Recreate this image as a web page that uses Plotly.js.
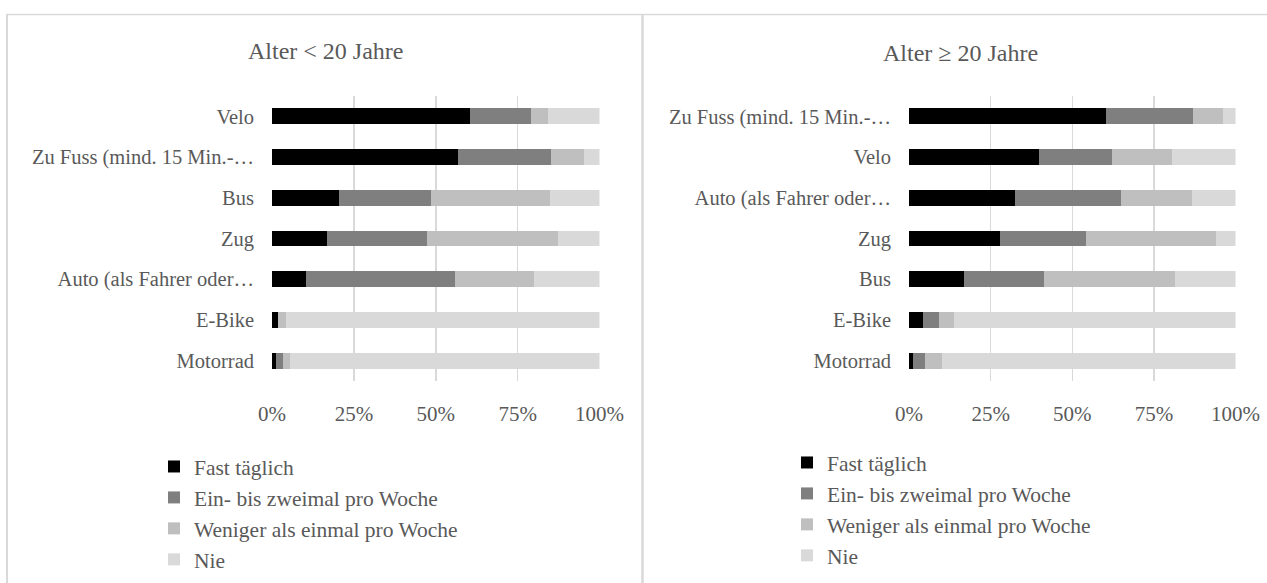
<!DOCTYPE html>
<html>
<head>
<meta charset="utf-8">
<script src="https://cdn.plot.ly/plotly-3.0.1.min.js"></script>
<style>
  html, body { margin: 0; padding: 0; background: #ffffff; }
  #chart { width: 1267px; height: 583px; }
</style>
</head>
<body>
<div id="chart"></div>
<script>
// ---- Data ----
var seriesNames = ["Fast täglich", "Ein- bis zweimal pro Woche", "Weniger als einmal pro Woche", "Nie"];
var seriesColors = ["#000000", "#7f7f7f", "#bfbfbf", "#d9d9d9"];

var titleLeft = "Alter < 20 Jahre";
var titleRight = "Alter ≥ 20 Jahre";

var catsUnder20 = ["Velo", "Zu Fuss (mind. 15 Min.-…", "Bus", "Zug", "Auto (als Fahrer oder…", "E-Bike", "Motorrad"];
var fastUnder20 = [60.5, 56.7, 20.6, 16.9, 10.5, 1.8, 1.3];
var einUnder20 = [18.6, 28.6, 28.0, 30.4, 45.5, 0.0, 2.1];
var wenigerUnder20 = [5.1, 9.9, 36.4, 40.0, 24.1, 2.5, 2.2];
var nieUnder20 = [15.8, 4.8, 15.0, 12.7, 19.9, 95.7, 94.4];

var catsOver20 = ["Zu Fuss (mind. 15 Min.-…", "Velo", "Auto (als Fahrer oder…", "Zug", "Bus", "E-Bike", "Motorrad"];
var fastOver20 = [60.4, 39.9, 32.5, 27.9, 16.9, 4.3, 1.2];
var einOver20 = [26.6, 22.4, 32.5, 26.4, 24.5, 4.9, 3.6];
var wenigerOver20 = [9.1, 18.1, 21.8, 39.6, 40.0, 4.6, 5.4];
var nieOver20 = [3.9, 19.6, 13.2, 6.1, 18.6, 86.2, 89.8];

var tickVals = [0, 25, 50, 75, 100];
var tickText = ["0%", "25%", "50%", "75%", "100%"];

// ---- Layout helpers ----
var W = 1267, H = 583;
function px(x) { return x / W; }
function py(y) { return 1 - y / H; }

var FONT = "Liberation Serif, Times New Roman, serif";
var TXT = "#595959";
var GRID = "#d9d9d9";

var leftSeries = [fastUnder20, einUnder20, wenigerUnder20, nieUnder20];
var rightSeries = [fastOver20, einOver20, wenigerOver20, nieOver20];

var traces = [];
for (var i = 0; i < 4; i++) {
  traces.push({
    type: "bar", orientation: "h",
    x: leftSeries[i], y: catsUnder20,
    name: seriesNames[i],
    marker: { color: seriesColors[i], line: { width: 0 } },
    xaxis: "x", yaxis: "y",
    legend: "legend",
    hoverinfo: "skip"
  });
}
for (var j = 0; j < 4; j++) {
  traces.push({
    type: "bar", orientation: "h",
    x: rightSeries[j], y: catsOver20,
    name: seriesNames[j],
    marker: { color: seriesColors[j], line: { width: 0 } },
    xaxis: "x2", yaxis: "y2",
    legend: "legend2",
    hoverinfo: "skip"
  });
}

function xAxis(domain, anchor) {
  return {
    domain: domain, anchor: anchor, range: [0, 100], fixedrange: true,
    tickmode: "array", tickvals: tickVals, ticktext: tickText,
    showgrid: true, gridcolor: GRID, gridwidth: 1.5,
    zeroline: false, showline: false, ticks: "",
    ticklabelstandoff: 18,
    tickfont: { family: FONT, size: 21, color: TXT }
  };
}
function yAxis(domain, anchor) {
  return {
    domain: domain, anchor: anchor, type: "category",
    autorange: "reversed", fixedrange: true,
    showgrid: false, zeroline: false, showline: false, ticks: "",
    ticklabelstandoff: 17,
    tickfont: { family: FONT, size: 20.5, color: TXT }
  };
}

var yDom = [py(381), py(96)];

var layout = {
  width: W, height: H,
  margin: { l: 0, r: 0, t: 0, b: 0 },
  paper_bgcolor: "#ffffff", plot_bgcolor: "#ffffff",
  barmode: "stack", bargap: 0.61,
  showlegend: true,
  xaxis: xAxis([px(272), px(599.5)], "y"),
  yaxis: yAxis(yDom, "x"),
  xaxis2: xAxis([px(909), px(1235.5)], "y2"),
  yaxis2: yAxis(yDom, "x2"),
  legend: {
    x: px(154), y: py(446), xanchor: "left", yanchor: "top",
    orientation: "v", traceorder: "normal",
    font: { family: FONT, size: 21.5, color: TXT },
    bgcolor: "rgba(0,0,0,0)", itemclick: false, itemdoubleclick: false
  },
  legend2: {
    x: px(787), y: py(442), xanchor: "left", yanchor: "top",
    orientation: "v", traceorder: "normal",
    font: { family: FONT, size: 21.5, color: TXT },
    bgcolor: "rgba(0,0,0,0)", itemclick: false, itemdoubleclick: false
  },
  annotations: [
    { text: titleLeft, xref: "paper", yref: "paper", x: px(325), y: py(51),
      xanchor: "center", yanchor: "middle", showarrow: false,
      font: { family: FONT, size: 24, color: TXT } },
    { text: titleRight, xref: "paper", yref: "paper", x: px(960), y: py(53),
      xanchor: "center", yanchor: "middle", showarrow: false,
      font: { family: FONT, size: 24, color: TXT } }
  ],
  shapes: [
    { type: "line", xref: "paper", yref: "paper", x0: px(6), x1: 1, y0: py(14.5), y1: py(14.5),
      line: { color: GRID, width: 1.5 } },
    { type: "line", xref: "paper", yref: "paper", x0: px(7), x1: px(7), y0: py(14), y1: 0,
      line: { color: GRID, width: 2 } },
    { type: "line", xref: "paper", yref: "paper", x0: px(642.5), x1: px(642.5), y0: py(14), y1: 0,
      line: { color: GRID, width: 2.5 } }
  ]
};

Plotly.newPlot("chart", traces, layout, { displayModeBar: false, staticPlot: true });
</script>
</body>
</html>
